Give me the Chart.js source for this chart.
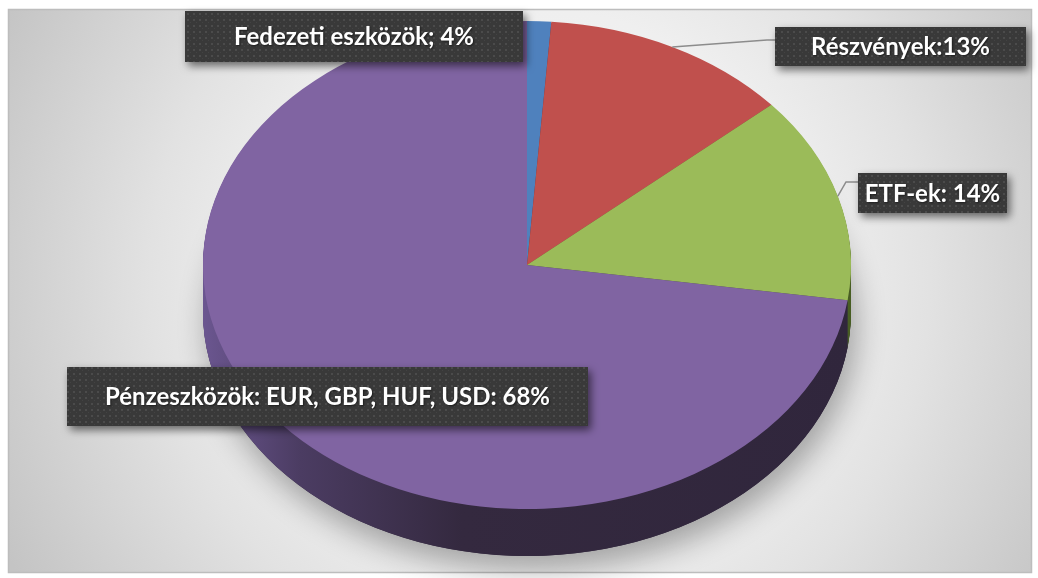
<!DOCTYPE html>
<html><head><meta charset="utf-8">
<script src="https://cdn.jsdelivr.net/npm/chart.js@4.4.0/dist/chart.umd.min.js"></script>
<style>html,body{margin:0;padding:0;background:#fff;overflow:hidden}canvas{display:block}</style>
</head><body><canvas id="c" width="1038" height="578"></canvas>
<script>
// ---- data ----
const categories = ['Fedezeti eszközök', 'Részvények', 'ETF-ek', 'Pénzeszközök: EUR, GBP, HUF, USD'];
const shares = [1.2, 12.4, 13.7, 72.7];            // slice sizes as drawn
const percentLabels = ['4%', '13%', '14%', '68%']; // percentages printed in labels
const labelSeparators = ['; ', ':', ': ', ': '];

// ---- style ----
const colors = ['#4F81BD', '#C0504D', '#9BBB59', '#8064A2'];
const sideColors = ['#2c4a70', '#7c2f2d', '#4a5f26', null];
const SX = 324 / 244;   // horizontal stretch of the tilted pie
const DEPTH = 47;       // thickness of the 3D side
const frame = {x: 8, y: 9, w: 1023, h: 563};
const boxes = [
  {x: 185, y: 11, w: 338, h: 51, leader: null},
  {x: 775, y: 27, w: 251, h: 39, leader: [[767, 40], [775, 40]]},
  {x: 858, y: 173, w: 149, h: 40, leader: [[846, 182], [858, 182]]},
  {x: 67, y: 367, w: 521, h: 59, leader: null}
];

// dotted dark pattern for label boxes
const pc = document.createElement('canvas'); pc.width = 6; pc.height = 6;
const pctx = pc.getContext('2d');
pctx.fillStyle = '#393939'; pctx.fillRect(0, 0, 6, 6);
pctx.fillStyle = '#4b4b4b'; pctx.fillRect(1, 1, 2, 2);
pctx.fillStyle = '#434343'; pctx.fillRect(4, 4, 1, 1);
let pattern = null;

function sector(ctx, a, dy) {
  ctx.beginPath();
  ctx.moveTo(a.x, a.y + dy);
  ctx.arc(a.x, a.y + dy, a.outerRadius, a.startAngle, a.endAngle);
  ctx.closePath();
}

const bgPlugin = {
  id: 'bg',
  beforeDraw(chart) {
    const ctx = chart.ctx;
    ctx.save();
    ctx.fillStyle = '#fff'; ctx.fillRect(0, 0, chart.width, chart.height);
    const g = ctx.createRadialGradient(540, 280, 0, 540, 280, 600);
    g.addColorStop(0, '#f6f6f6');
    g.addColorStop(0.45, '#efefef');
    g.addColorStop(0.65, '#e2e2e2');
    g.addColorStop(1, '#c4c4c4');
    ctx.fillStyle = g;
    ctx.fillRect(frame.x, frame.y, frame.w, frame.h);
    ctx.strokeStyle = '#bdbdbd'; ctx.lineWidth = 1.5;
    ctx.strokeRect(frame.x + 0.5, frame.y + 0.5, frame.w, frame.h);
    ctx.restore();
  }
};

const piePlugin = {
  id: 'pie3d',
  beforeDatasetsDraw(chart) {
    const ctx = chart.ctx;
    const arcs = chart.getDatasetMeta(0).data;
    const a0 = arcs[0];
    const cx = a0.x, cy = a0.y, r = a0.outerRadius;
    // soft shadow
    ctx.save();
    ctx.shadowColor = 'rgba(0,0,0,0.32)'; ctx.shadowBlur = 30; ctx.shadowOffsetY = 14; ctx.shadowOffsetX = 5;
    ctx.fillStyle = '#33283f';
    ctx.beginPath(); ctx.ellipse(cx, cy + DEPTH, r * SX, r, 0, 0, Math.PI * 2); ctx.fill();
    ctx.restore();
    // extruded sides
    ctx.save();
    ctx.translate(cx, 0); ctx.scale(SX, 1); ctx.translate(-cx, 0);
    const g = ctx.createLinearGradient(cx - r, 0, cx + r, 0);
    g.addColorStop(0, '#6b5690');
    g.addColorStop(0.15, '#4b3c62');
    g.addColorStop(0.4, '#34293f');
    g.addColorStop(1, '#30263c');
    for (let d = DEPTH; d >= 1; d--) {
      arcs.forEach((a, i) => {
        sector(ctx, a, d);
        ctx.fillStyle = sideColors[i] || g;
        ctx.fill();
      });
    }
    ctx.restore();
    // stretch the top face
    ctx.save();
    ctx.translate(cx, 0); ctx.scale(SX, 1); ctx.translate(-cx, 0);
  },
  afterDatasetsDraw(chart) {
    chart.ctx.restore();
  }
};

const labelPlugin = {
  id: 'labels',
  afterDraw(chart) {
    const ctx = chart.ctx;
    const arcs = chart.getDatasetMeta(0).data;
    if (!pattern) pattern = ctx.createPattern(pc, 'repeat');
    ctx.save();
    boxes.forEach((b, i) => {
      if (!b.leader) return;
      const a = arcs[i];
      const mid = (a.startAngle + a.endAngle) / 2;
      const px = a.x + Math.cos(mid) * a.outerRadius * SX;
      const py = a.y + Math.sin(mid) * a.outerRadius;
      ctx.beginPath(); ctx.moveTo(px, py);
      b.leader.forEach(p => ctx.lineTo(p[0], p[1]));
      ctx.strokeStyle = '#8c8c8c'; ctx.lineWidth = 1.5; ctx.stroke();
    });
    boxes.forEach((b, i) => {
      ctx.save();
      ctx.shadowColor = 'rgba(0,0,0,0.55)'; ctx.shadowBlur = 8; ctx.shadowOffsetX = 3; ctx.shadowOffsetY = 4;
      ctx.fillStyle = pattern; ctx.fillRect(b.x, b.y, b.w, b.h);
      ctx.restore();
      ctx.save();
      ctx.shadowColor = 'rgba(0,0,0,0.5)'; ctx.shadowBlur = 2; ctx.shadowOffsetX = 1; ctx.shadowOffsetY = 1;
      ctx.fillStyle = '#ffffff';
      ctx.font = 'bold 24px Lato';
      ctx.textAlign = 'center'; ctx.textBaseline = 'alphabetic';
      ctx.fillText(categories[i] + labelSeparators[i] + percentLabels[i], b.x + b.w / 2, b.y + b.h / 2 + 8.5);
      ctx.restore();
    });
    ctx.restore();
  }
};

new Chart(document.getElementById('c'), {
  type: 'pie',
  data: {
    labels: categories,
    datasets: [{data: shares, backgroundColor: colors, borderWidth: 0, hoverOffset: 0, clip: false}]
  },
  options: {
    responsive: false,
    animation: false,
    events: [],
    layout: {padding: {left: 203, right: 187, top: 21, bottom: 69}},
    plugins: {legend: {display: false}, tooltip: {enabled: false}}
  },
  plugins: [bgPlugin, piePlugin, labelPlugin]
});
</script>
</body></html>
